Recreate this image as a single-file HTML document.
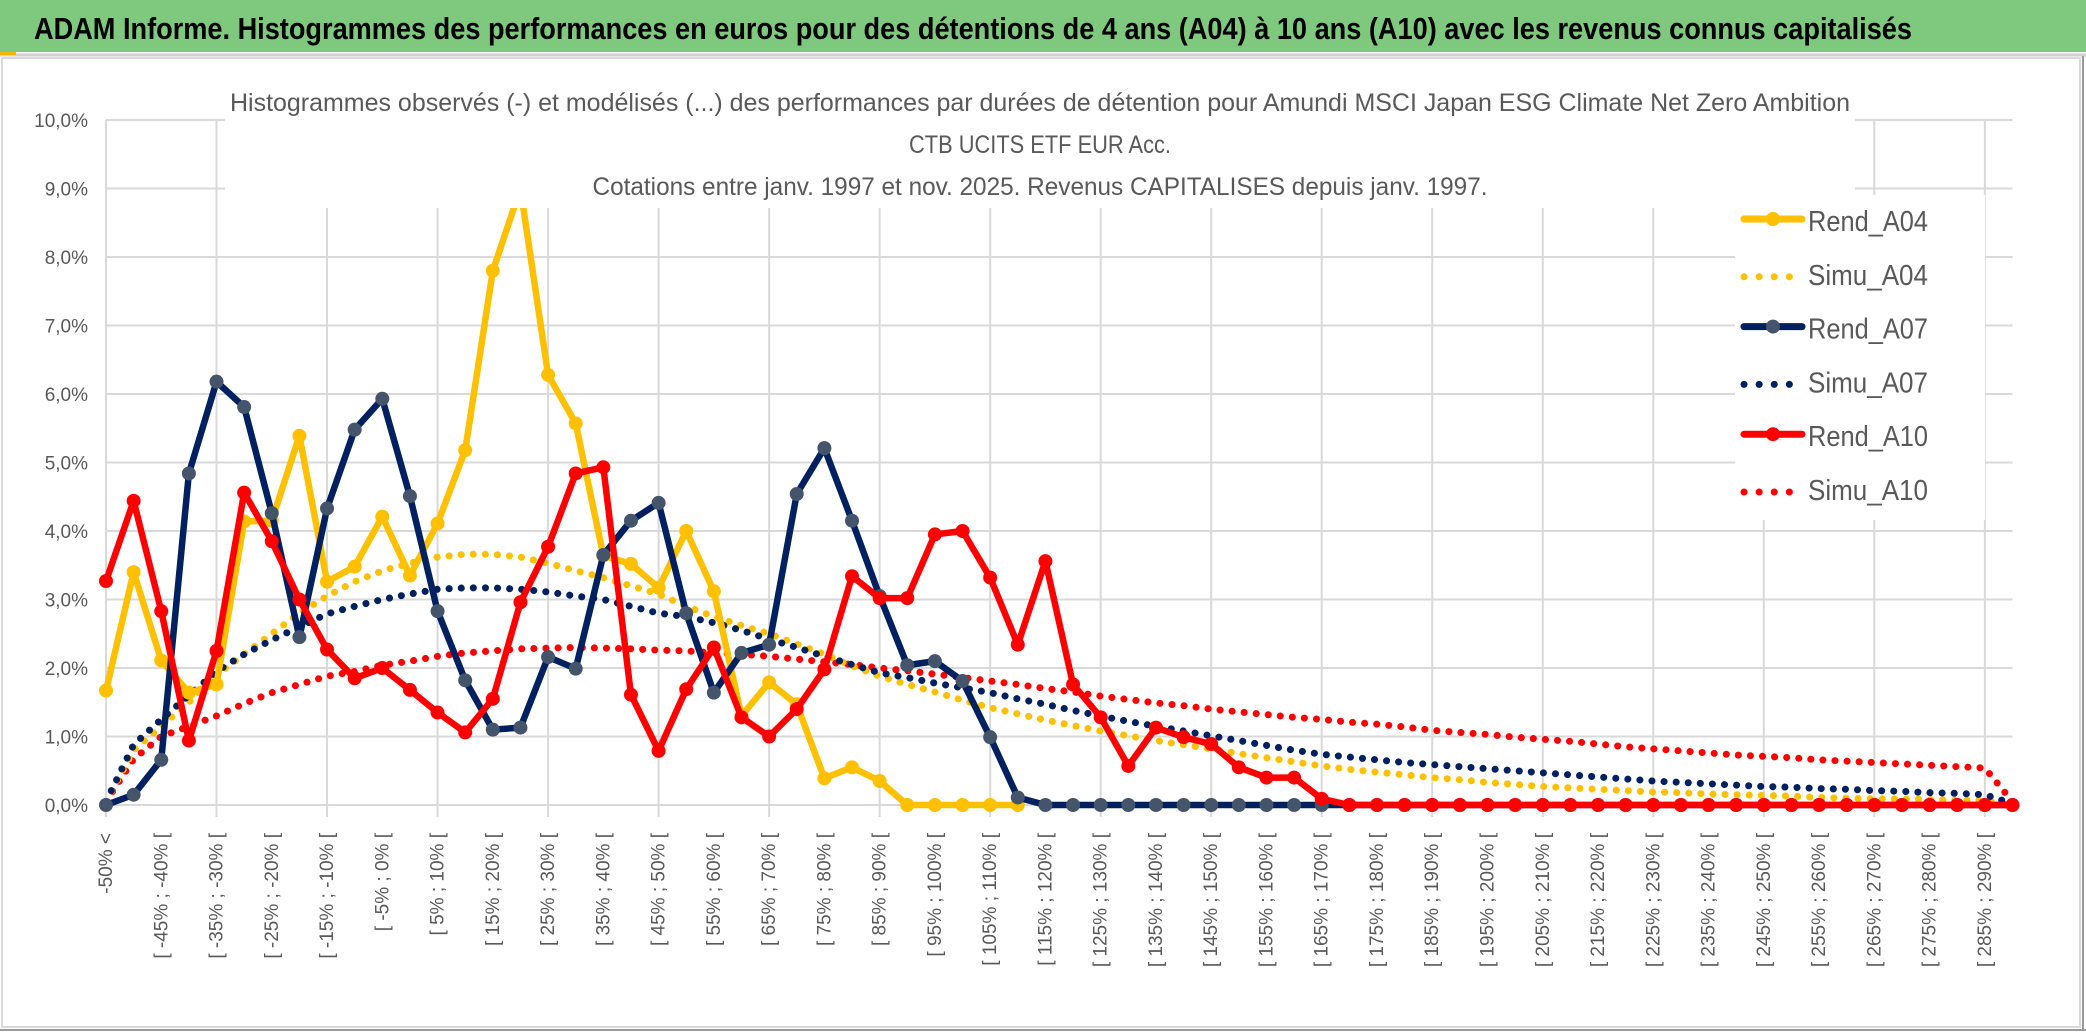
<!DOCTYPE html>
<html><head><meta charset="utf-8">
<style>
html,body{margin:0;padding:0;background:#fff;}
svg{display:block;font-family:"Liberation Sans",sans-serif;}
</style></head>
<body>
<svg id="chart" width="2086" height="1033" viewBox="0 0 2086 1033" xmlns="http://www.w3.org/2000/svg">
  <rect x="0" y="0" width="2086" height="1033" fill="#fff"/>
  <rect x="0" y="0" width="2086" height="52" fill="#7fc97f"/>
  <line x1="0" y1="55" x2="2086" y2="55" stroke="#d0d0d0" stroke-width="3"/>
  <rect x="0" y="52" width="16" height="3" fill="#f0b800"/>
  <text x="34" y="39" font-size="31" font-weight="bold" fill="#000" textLength="1878" lengthAdjust="spacingAndGlyphs">ADAM Informe. Histogrammes des performances en euros pour des détentions de 4 ans (A04) à 10 ans (A10) avec les revenus connus capitalisés</text>
  <rect x="2" y="58" width="2078" height="969" fill="none" stroke="#d9d9d9" stroke-width="2"/>
  <line x1="0" y1="1030" x2="2086" y2="1030" stroke="#999" stroke-width="2"/>
  <line x1="2083" y1="56" x2="2083" y2="1030" stroke="#999" stroke-width="2"/>
  <g id="grid"></g>
  <g id="ylabels"></g>
  <g id="xlabels"></g>
  <g id="series"></g>
  <g fill="#595959" font-size="25" text-anchor="middle">
    <rect x="225" y="78" width="1630" height="130" fill="#fff"/>
    <text x="1040" y="111" textLength="1620" lengthAdjust="spacingAndGlyphs">Histogrammes observés (-) et modélisés (...) des performances par durées de détention pour Amundi MSCI Japan ESG Climate Net Zero Ambition</text>
    <text x="1040" y="153" textLength="262" lengthAdjust="spacingAndGlyphs">CTB UCITS ETF EUR Acc.</text>
    <text x="1040" y="195" textLength="895" lengthAdjust="spacingAndGlyphs">Cotations entre janv. 1997 et nov. 2025. Revenus CAPITALISES depuis janv. 1997.</text>
  </g>
  <g id="legend"></g>
</svg>
<script>
const categories = (function(){const a=["-50% <"];for(let k=1;k<70;k++){a.push("[ "+(-55+5*k)+"% ; "+(-50+5*k)+"% [");}return a;})();
const yTicks = [0,1,2,3,4,5,6,7,8,9,10];
const yTickLabels = ["0,0%","1,0%","2,0%","3,0%","4,0%","5,0%","6,0%","7,0%","8,0%","9,0%","10,0%"];
const rendA04 = [1.67,3.4,2.11,1.64,1.76,4.14,4.15,5.39,3.26,3.48,4.21,3.35,4.11,5.18,7.8,9.0,6.28,5.57,3.64,3.52,3.17,4.0,3.12,1.3,1.79,1.47,0.39,0.55,0.35,0,0,0,0,0];
const rendA07 = [0,0.15,0.66,4.84,6.18,5.81,4.26,2.45,4.33,5.48,5.93,4.51,2.83,1.82,1.1,1.13,2.16,1.99,3.65,4.15,4.41,2.8,1.64,2.22,2.34,4.54,5.21,4.15,3.05,2.04,2.1,1.81,0.99,0.11,0,0,0,0,0,0,0,0,0,0,0,0,0,0,0,0,0,0,0,0,0,0,0,0,0,0,0,0,0,0,0,0,0,0,0,0];
const rendA10 = [3.27,4.44,2.83,0.94,2.25,4.56,3.85,3.0,2.27,1.85,2.0,1.68,1.35,1.06,1.55,2.96,3.77,4.84,4.93,1.61,0.79,1.69,2.3,1.28,1.0,1.4,1.98,3.34,3.02,3.02,3.95,4.0,3.32,2.34,3.56,1.76,1.28,0.57,1.13,0.99,0.89,0.55,0.4,0.4,0.09,0,0,0,0,0,0,0,0,0,0,0,0,0,0,0,0,0,0,0,0,0,0,0,0,0];
const simuA04 = [0.05,0.8,1.15,1.5,1.9,2.2,2.5,2.8,3.05,3.26,3.42,3.53,3.62,3.66,3.66,3.62,3.53,3.42,3.32,3.2,3.08,2.9,2.75,2.62,2.5,2.35,2.2,2.03,1.88,1.76,1.65,1.53,1.42,1.33,1.24,1.16,1.08,1.01,0.94,0.88,0.82,0.75,0.69,0.63,0.57,0.52,0.48,0.44,0.40,0.37,0.33,0.30,0.27,0.25,0.23,0.21,0.19,0.18,0.16,0.15,0.14,0.13,0.11,0.10,0.09,0.09,0.08,0.07,0.07,0.0];
const simuA07 = [0.05,0.88,1.25,1.6,1.95,2.2,2.41,2.6,2.79,2.9,3.0,3.08,3.15,3.17,3.17,3.15,3.11,3.05,3.0,2.9,2.8,2.75,2.66,2.55,2.42,2.3,2.17,2.05,1.93,1.86,1.78,1.71,1.64,1.55,1.47,1.38,1.3,1.22,1.15,1.08,1.01,0.94,0.87,0.8,0.74,0.70,0.66,0.62,0.59,0.56,0.53,0.50,0.47,0.44,0.41,0.38,0.35,0.33,0.31,0.29,0.27,0.26,0.24,0.23,0.21,0.20,0.18,0.17,0.15,0.02];
const simuA10 = [0.05,0.67,1.0,1.15,1.3,1.48,1.64,1.76,1.88,1.95,2.04,2.1,2.17,2.22,2.25,2.28,2.29,2.3,2.29,2.28,2.26,2.25,2.22,2.2,2.17,2.13,2.09,2.05,2.0,1.96,1.91,1.86,1.81,1.76,1.7,1.65,1.59,1.54,1.49,1.45,1.4,1.36,1.32,1.28,1.25,1.21,1.18,1.14,1.09,1.06,1.03,0.99,0.96,0.93,0.89,0.85,0.82,0.79,0.76,0.73,0.71,0.69,0.66,0.64,0.62,0.60,0.58,0.56,0.54,0.05];
const seriesNames = ["Simu_A10","Simu_A04","Simu_A07","Rend_A04","Rend_A07","Rend_A10"];

const NS="http://www.w3.org/2000/svg";
const X0=106, DX=27.63, Y0=805, DY=68.5;
function xs(i){return X0+i*DX;}
function ys(v){return Y0-v*DY;}
function mk(tag,attrs,parent){const e=document.createElementNS(NS,tag);for(const k in attrs)e.setAttribute(k,attrs[k]);parent.appendChild(e);return e;}

const grid=document.getElementById('grid');
yTicks.forEach(function(t){
  const l=mk('line',{x1:X0,x2:xs(69),y1:ys(t),y2:ys(t),stroke:'#d9d9d9','stroke-width':2},grid);
  
  
});
for(let i=0;i<categories.length;i+=4){
  const l=mk('line',{x1:xs(i),x2:xs(i),y1:ys(10),y2:ys(0)+12,stroke:'#d9d9d9','stroke-width':2},grid);
  
  
}
const yl=document.getElementById('ylabels');
yTicks.forEach(function(t,k){
  const e=mk('text',{x:88,y:ys(t)+7,'text-anchor':'end','font-size':19,fill:'#595959'},yl);
  e.textContent=yTickLabels[k];
  
  
});
const xl=document.getElementById('xlabels');
categories.forEach(function(c,i){
  if(i%2!==0)return;
  const x=xs(i)+6,y=833;
  const e=mk('text',{x:x,y:y,'text-anchor':'end','font-size':19,fill:'#595959',transform:'rotate(-90 '+x+' '+y+')'},xl);
  e.textContent=c;
  
  
});

const S=document.getElementById('series');
function drawDotted(data,color,name){
  const pts=data.map(function(v,i){return xs(i)+','+ys(v);}).join(' ');
  const p=mk('polyline',{points:pts,fill:'none',stroke:color,'stroke-width':7,'stroke-dasharray':'0.1 12','stroke-linecap':'round'},S);
  
  
}
function drawSolid(data,color,mcolor,name){
  const pts=data.map(function(v,i){return xs(i)+','+ys(v);}).join(' ');
  const p=mk('polyline',{points:pts,fill:'none',stroke:color,'stroke-width':6.5,'stroke-linejoin':'round'},S);
  
  
  data.forEach(function(v,i){
    const c=mk('circle',{cx:xs(i),cy:ys(v),r:7,fill:mcolor},S);
    
    
  });
}
drawDotted(simuA10,'#ff0000','simu-a10-line');
drawDotted(simuA04,'#ffc000','simu-a04-line');
drawDotted(simuA07,'#002060','simu-a07-line');
drawSolid(rendA04,'#ffc000','#ffc000','rend-a04-line');
drawSolid(rendA07,'#002060','#44546a','rend-a07-line');
drawSolid(rendA10,'#ff0000','#ff0000','rend-a10-line');

const L=document.getElementById('legend');
mk('rect',{x:1735,y:195,width:250,height:325,fill:'#fff'},L);
const legendColors=['#ffc000','#ffc000','#002060','#002060','#ff0000','#ff0000'];
const legendMarker=['#ffc000',null,'#44546a',null,'#ff0000',null];
const legendLabels=['Rend_A04','Simu_A04','Rend_A07','Simu_A07','Rend_A10','Simu_A10'];
legendLabels.forEach(function(lab,k){
  const y=219+k*53.8;
  if(legendMarker[k]){
    mk('line',{x1:1744,x2:1802,y1:y,y2:y,stroke:legendColors[k],'stroke-width':7,'stroke-linecap':'round'},L);
    mk('circle',{cx:1773,cy:y,r:7,fill:legendMarker[k]},L);
  } else {
    mk('line',{x1:1744,x2:1802,y1:y+4,y2:y+4,stroke:legendColors[k],'stroke-width':7,'stroke-dasharray':'0.1 15','stroke-linecap':'round'},L);
  }
  const t=mk('text',{x:1808,y:y+12,'font-size':29,fill:'#595959',textLength:120,lengthAdjust:'spacingAndGlyphs'},L);
  t.textContent=lab;
  
  
});
</script>
</body></html>
